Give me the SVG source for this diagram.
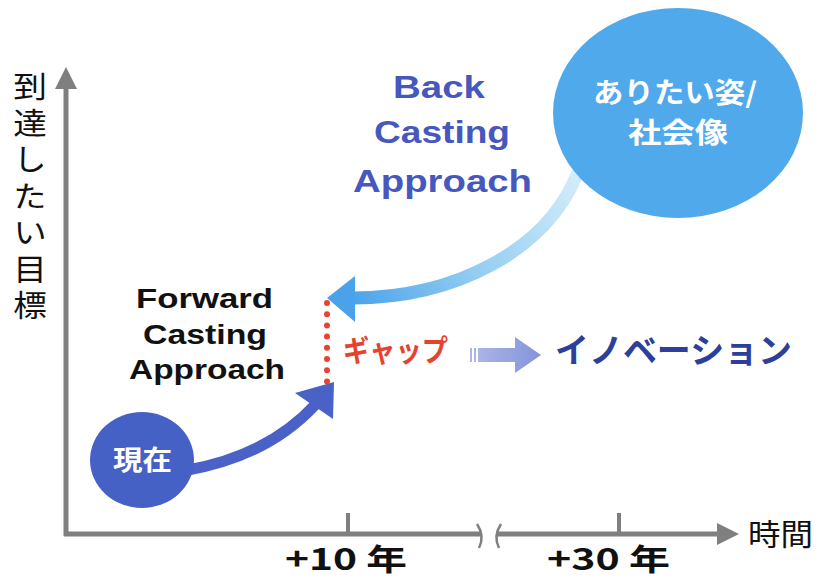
<svg xmlns="http://www.w3.org/2000/svg" width="818" height="579" viewBox="0 0 818 579">
<style>
.ax{stroke:#7f7f7f;stroke-width:5;fill:none}
.axh{fill:#7f7f7f}
.brk{stroke:#7f7f7f;stroke-width:2.5;fill:none}
.lat{font-family:"Liberation Sans",Arial,sans-serif;font-weight:bold}
.jp{font-family:"Noto Sans CJK JP","Noto Sans",sans-serif}
.b{font-weight:bold}
</style>
<defs>
<linearGradient id="gBack" gradientUnits="userSpaceOnUse" x1="575" y1="175" x2="350" y2="298">
<stop offset="0" stop-color="#d2ecfa"/>
<stop offset="0.55" stop-color="#8fcbf2"/>
<stop offset="1" stop-color="#4aa3ea"/>
</linearGradient>
<linearGradient id="gInno" x1="0" y1="0" x2="1" y2="0">
<stop offset="0" stop-color="#a9b4e6"/>
<stop offset="1" stop-color="#8394d8"/>
</linearGradient>
</defs>

<g id="axes">
<line class="ax" x1="66" y1="86" x2="66" y2="536"/>
<polygon class="axh" points="66,67 55,89 77,89"/>
<polyline class="ax" points="64,534 481,534"/>
<line class="ax" x1="497" y1="534" x2="720" y2="534"/>
<polygon class="axh" points="739,534 717,523 717,545"/>
<line class="ax" x1="348" y1="513" x2="348" y2="534" style="stroke-width:4"/>
<line class="ax" x1="619" y1="513" x2="619" y2="534" style="stroke-width:4"/>
<path class="brk" d="M477 524 Q485 536 479 548"/>
<path class="brk" d="M501 524 Q493 536 499 548"/>
<text class="jp" font-size="30" x="748" y="545" textLength="65" lengthAdjust="spacingAndGlyphs" fill="#111">時間</text>
<text class="jp b" font-size="30" x="285" y="570" textLength="122" lengthAdjust="spacingAndGlyphs" fill="#111">+10 年</text>
<text class="jp b" font-size="30" x="547" y="570" textLength="123" lengthAdjust="spacingAndGlyphs" fill="#111">+30 年</text>
<text class="jp" font-size="30" fill="#111" writing-mode="vertical-rl" letter-spacing="6.5" x="0" y="71" transform="translate(30,0) scale(1.12,1)">到達したい目標</text>
</g>

<g id="connectors">
<path d="M578 172 C548 250 455 298 352 298" fill="none" stroke="url(#gBack)" stroke-width="13"/>
<polygon points="327,298 355,276 355,322" fill="#4aa3ea"/>
<path d="M188 470 Q268 456 316 404" fill="none" stroke="#4a62c8" stroke-width="11"/>
<polygon points="334,382 295,393 333,419" fill="#4a62c8"/>
<line x1="327" y1="303" x2="327" y2="382" stroke="#e8432c" stroke-width="6" stroke-linecap="round" stroke-dasharray="0 11.2"/>
<g id="innoArrow">
<rect x="470" y="348" width="2" height="14" fill="#aab4e6"/>
<rect x="474" y="348" width="2" height="14" fill="#aab4e6"/>
<polygon points="478,348 515,348 515,337 541,355 515,373 515,362 478,362" fill="url(#gInno)"/>
</g>
</g>

<g id="now">
<ellipse cx="142" cy="460" rx="52" ry="48" fill="#4561c6"/>
<text class="jp b" font-size="27" x="113" y="470" textLength="59" lengthAdjust="spacingAndGlyphs" fill="#fff">現在</text>
</g>

<g id="vision">
<ellipse cx="678" cy="113" rx="125" ry="105" fill="#4fa9eb"/>
<text class="jp b" font-size="28" x="593" y="103" textLength="164" lengthAdjust="spacingAndGlyphs" fill="#fff">ありたい姿/</text>
<text class="jp b" font-size="28" x="628" y="143" textLength="100" lengthAdjust="spacingAndGlyphs" fill="#fff">社会像</text>
</g>

<g id="forward-label" class="lat" font-size="28" fill="#111">
<text x="136" y="308" textLength="137" lengthAdjust="spacingAndGlyphs">Forward</text>
<text x="143" y="344" textLength="124" lengthAdjust="spacingAndGlyphs">Casting</text>
<text x="129" y="379" textLength="156" lengthAdjust="spacingAndGlyphs">Approach</text>
</g>

<g id="back-label" class="lat" font-size="32" fill="#4657bd">
<text x="393" y="98" textLength="92" lengthAdjust="spacingAndGlyphs">Back</text>
<text x="374" y="143" textLength="136" lengthAdjust="spacingAndGlyphs">Casting</text>
<text x="353" y="192" textLength="179" lengthAdjust="spacingAndGlyphs">Approach</text>
</g>

<g id="gap">
<text class="jp b" font-size="30" x="343" y="361" textLength="105" lengthAdjust="spacingAndGlyphs" fill="#e5432e">ギャップ</text>
</g>

<g id="innovation">
<text class="jp b" font-size="34" x="555" y="363" textLength="237" lengthAdjust="spacingAndGlyphs" fill="#2c3f9c">イノベーション</text>
</g>
</svg>
